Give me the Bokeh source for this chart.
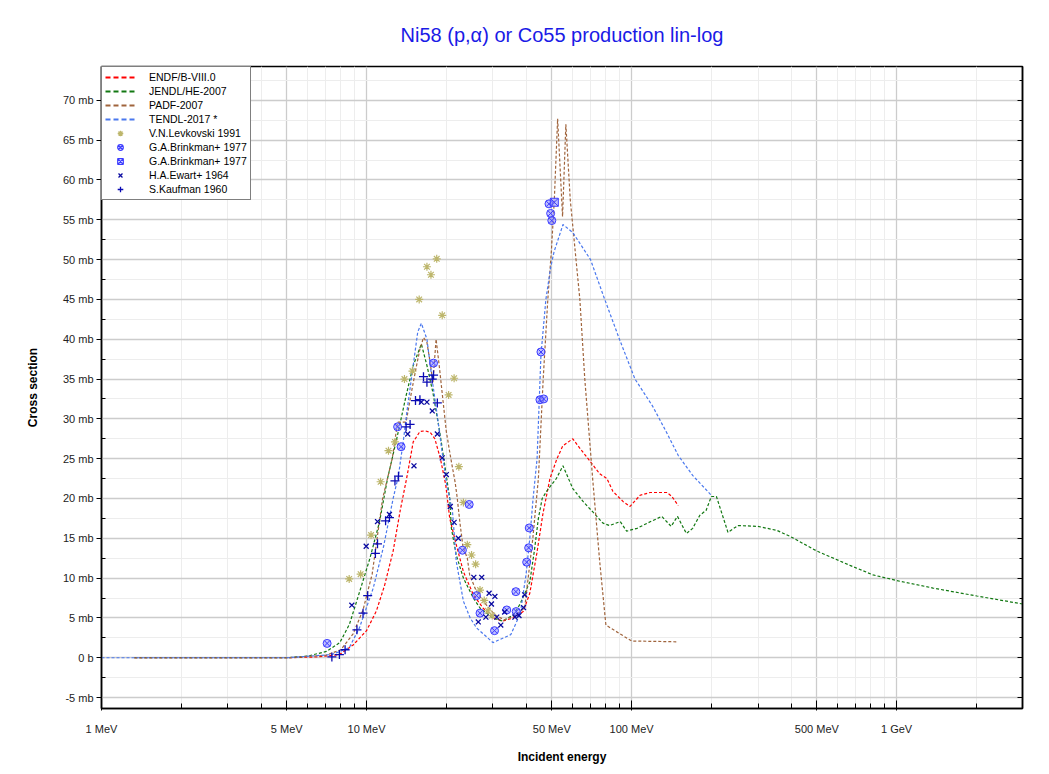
from bokeh.plotting import figure
from bokeh.models import FixedTicker, LinearAxis, Legend, LegendItem, Range1d
from bokeh.embed import file_html
from bokeh.resources import INLINE

# ---------------- data (MeV, mb) ----------------
endf_e = [1.33, 5.0, 6.5, 7.9, 8.9, 10.0, 10.9, 11.7, 12.6, 13.4, 14.2, 15.0, 15.9, 16.6, 17.4,
          18.1, 19.0, 19.9, 20.6, 21.8, 23.2, 25.3, 27.5, 30.0, 32.6, 35.8, 39.0, 41.3, 43.9,
          46.3, 49.2, 52.3, 55.0, 60.0, 64.0, 70.0, 75.8, 80.7, 85.0, 93.0, 98.7, 107.6, 117.4,
          136.0, 142.0, 150.0]
endf_mb = [0.0, 0.0, 0.1, 0.4, 1.6, 3.4, 5.9, 9.1, 13.4, 18.5, 22.7, 27.1, 28.4, 28.5, 28.3,
           27.5, 25.0, 21.7, 17.5, 14.2, 10.8, 7.9, 6.25, 5.0, 4.6, 5.0, 5.8, 8.1, 13.1,
           18.1, 22.5, 25.0, 26.6, 27.5, 26.25, 24.6, 23.1, 22.5, 20.9, 19.6, 19.0, 20.4, 20.75,
           20.75, 20.25, 19.1]

jendl_e = [1.33, 5.0, 6.0, 7.06, 7.93, 8.62, 9.42, 10.3, 11.2, 12.0, 13.0, 14.1, 15.0, 16.1,
           16.9, 17.8, 18.9, 19.4, 20.6, 20.9, 21.8, 23.2, 25.3, 26.8, 30.0, 32.6, 35.8, 37.9,
           41.3, 43.0, 44.5, 46.0, 48.0, 52.0, 55.1, 60.0, 65.7, 71.0, 78.0, 82.6, 90.6, 95.8,
           104.8, 118.0, 130.0, 141.0, 149.0, 161.0, 170.0, 181.0, 191.0, 200.0, 209.0, 231.0,
           252.0, 299.0, 353.0, 396.0, 500.0, 667.0, 815.0, 1030.0, 1372.0, 2010.0, 2985.0]
jendl_mb = [0.0, 0.0, 0.2, 0.8, 1.9, 4.2, 8.3, 12.5, 17.1, 22.5, 27.5, 32.9, 36.7, 39.4,
            36.7, 33.3, 28.3, 25.8, 20.0, 16.25, 12.9, 10.0, 7.5, 6.25, 5.0, 4.6, 5.4, 6.7,
            9.5, 13.5, 17.5, 20.0, 21.0, 22.5, 24.1, 21.25, 19.6, 18.4, 16.9, 16.6, 17.1, 15.9,
            16.25, 17.1, 17.75, 16.5, 17.75, 15.6, 16.25, 17.9, 18.5, 20.25, 20.25, 15.75,
            16.6, 16.5, 16.0, 15.25, 13.4, 11.6, 10.4, 9.6, 8.75, 7.75, 6.75]

padf_e = [1.33, 5.0, 7.0, 8.0, 8.9, 9.7, 10.5, 11.5, 12.5, 13.1, 14.1, 14.8, 15.4, 15.9, 16.4,
          16.9, 17.3, 17.8, 18.3, 18.8, 19.4, 20.0, 20.8, 21.6, 22.0, 22.5, 23.1, 24.0, 24.5,
          26.0, 28.2, 30.5, 33.1, 36.1, 39.5, 42.4, 44.5, 46.4, 48.3, 49.8, 51.1, 52.6, 54.9,
          56.5, 58.7, 63.8, 66.6, 71.3, 75.8, 80.0, 100.0, 150.0]
padf_mb = [0.0, 0.0, 0.3, 1.0, 3.0, 6.0, 10.5, 20.0, 25.0, 29.6, 29.6, 33.5, 36.5, 38.75, 40.2,
           39.6, 37.5, 34.6, 40.0, 36.7, 32.5, 28.4, 25.0, 22.0, 20.0, 17.0, 14.0, 12.5, 10.4,
           8.3, 6.7, 5.4, 4.75, 5.25, 6.25, 15.0, 22.5, 35.0, 45.0, 51.0, 57.5, 67.7, 55.4,
           67.0, 57.5, 45.0, 35.0, 22.5, 12.1, 4.1, 2.1, 2.0]

tendl_e = [1.0, 5.0, 7.4, 8.6, 9.4, 10.6, 11.6, 12.6, 13.2, 13.8, 14.2, 15.0, 15.6, 16.1, 16.9,
           17.6, 18.4, 19.2, 20.1, 21.1, 21.8, 23.2, 24.6, 26.0, 30.0, 35.0, 38.0, 40.0, 41.3,
           42.5, 44.0, 45.5, 47.5, 49.5, 51.0, 55.1, 60.0, 70.0, 78.4, 90.0, 103.0, 120.0,
           135.0, 150.0, 170.0, 200.0]
tendl_mb = [0.0, 0.0, 0.4, 1.25, 3.75, 8.75, 14.0, 20.0, 22.9, 27.5, 30.9, 36.7, 40.9, 42.0, 40.0,
            35.4, 30.9, 26.25, 21.6, 18.4, 12.1, 7.1, 5.0, 3.75, 1.9, 2.9, 5.5, 10.5, 15.0,
            20.0, 25.0, 38.0, 45.0, 49.0, 51.0, 54.4, 53.4, 50.0, 45.4, 40.0, 35.0, 31.6,
            28.4, 25.4, 22.9, 20.4]

levk_e = [8.6, 9.5, 10.4, 11.3, 12.1, 12.8, 13.9, 14.9, 15.8, 16.9, 17.5, 18.4, 19.3, 20.4,
          21.4, 22.3, 23.2, 24.0, 24.9, 25.8, 26.8, 27.8, 28.7, 29.8]
levk_mb = [9.9, 10.5, 15.4, 22.1, 26.0, 27.1, 35.0, 36.0, 45.0, 49.1, 48.1, 50.1, 43.0, 33.0,
           35.1, 24.0, 19.5, 14.2, 12.9, 11.75, 8.5, 7.2, 5.9, 5.3]

brink_e = [7.1, 13.1, 13.5, 17.9, 23.0, 24.4, 26.0, 26.8, 30.4, 33.8, 36.6, 36.7, 40.2, 40.9,
           41.1, 45.1, 45.5, 46.6, 48.8, 49.5, 50.0]
brink_mb = [1.8, 29.0, 26.5, 37.0, 13.5, 19.25, 7.8, 5.6, 3.4, 6.0, 8.3, 5.8, 12.0, 13.8,
            16.3, 32.4, 38.4, 32.5, 57.0, 55.8, 54.9]

brink2_e = [51.1]
brink2_mb = [57.2]

ewart_e = [8.8, 9.97, 11.0, 12.2, 14.3, 15.1, 16.1, 16.9, 17.7, 18.5, 19.3, 20.0, 20.7, 21.4,
           22.2, 25.4, 26.4, 27.2, 28.2, 29.0, 29.6, 30.5, 31.0, 32.1, 33.2, 36.3, 37.6, 39.1, 39.5]
ewart_mb = [6.6, 14.0, 17.1, 18.0, 28.1, 24.1, 32.1, 32.1, 31.0, 28.1, 25.1, 23.0, 19.0, 17.0,
            15.0, 10.1, 4.5, 10.1, 5.1, 8.1, 6.75, 7.7, 5.1, 4.1, 5.75, 5.1, 5.3, 6.3, 7.9]

kauf_e = [7.4, 7.9, 8.3, 9.2, 9.7, 10.1, 10.8, 11.0, 11.8, 12.2, 12.8, 13.2, 14.1, 14.6, 15.3,
          15.9, 16.4, 16.9, 17.7, 17.9, 18.5]
kauf_mb = [0.1, 0.4, 1.0, 3.5, 5.6, 7.8, 13.1, 14.3, 17.2, 17.6, 22.2, 22.8, 29.0, 29.3, 32.3,
           32.4, 35.3, 34.6, 35.0, 35.5, 32.0]

x_ticks = [1, 5, 10, 50, 100, 500, 1000]
x_tick_labels = ["1 MeV", "5 MeV", "10 MeV", "50 MeV", "100 MeV", "500 MeV", "1 GeV"]
x_minor = [2, 3, 4, 6, 7, 8, 9, 20, 30, 40, 60, 70, 80, 90, 200, 300, 400, 600, 700, 800, 900, 2000]
y_ticks = list(range(-5, 75, 5))
y_tick_labels = [("0 b" if v == 0 else f"{v} mb") for v in y_ticks]
y_minor = [v + 2.5 for v in range(-10, 75, 5)]

# ---------------- styles ----------------
C_ENDF = "#ff0000"
C_JENDL = "#127812"
C_PADF = "#a0643c"
C_TENDL = "#4a78ee"
C_LEVK = "#bdb66c"
C_BRINK = "#3c3cff"
C_EWART = "#0a0aa0"
C_KAUF = "#0a0ab4"
FONT = "Liberation Sans"

W, H = 1041, 766
p = figure(width=W, height=H, x_axis_type="log",
           x_range=Range1d(1, 2985), y_range=Range1d(-6.375, 74.25),
           output_backend="svg", toolbar_location=None,
           min_border_left=101, min_border_right=19, min_border_top=66, min_border_bottom=55)

p.title.text = "Ni58 (p,\u03b1) or Co55 production lin-log"
p.title.align = "center"
p.title.text_font = FONT
p.title.text_font_style = "normal"
p.title.text_font_size = "20px"
p.title.text_color = "#1a1ae6"
p.title.standoff = 41

p.outline_line_color = "black"
p.outline_line_width = 1.5
p.background_fill_color = "white"
p.border_fill_color = "white"

# axes
xa = p.xaxis[0]
xa.ticker = FixedTicker(ticks=x_ticks, minor_ticks=x_minor)
xa.major_label_overrides = {t: l for t, l in zip(x_ticks, x_tick_labels)}
xa.axis_label = "Incident energy"
ya = p.yaxis[0]
ya.ticker = FixedTicker(ticks=y_ticks, minor_ticks=y_minor)
ya.major_label_overrides = {t: l for t, l in zip(y_ticks, y_tick_labels)}
ya.axis_label = "Cross section"

for ax in (xa, ya):
    ax.axis_line_color = "black"
    ax.axis_line_width = 1.5
    ax.major_tick_line_color = "black"
    ax.minor_tick_line_color = "black"
    ax.major_label_text_font = FONT
    ax.major_label_text_font_size = "11px"
    ax.major_label_text_color = "#222222"
    ax.axis_label_text_font = FONT
    ax.axis_label_text_font_size = "12px"
    ax.axis_label_text_font_style = "bold"
    ax.axis_label_text_color = "black"

xa.major_tick_in = 8
xa.major_tick_out = 2
xa.minor_tick_in = 5
xa.minor_tick_out = 0
xa.major_label_standoff = 12
xa.axis_label_standoff = 12

ya.major_tick_in = 0
ya.major_tick_out = 5
ya.minor_tick_in = 4
ya.minor_tick_out = 0
ya.major_label_standoff = 3
ya.axis_label_standoff = 20

ra = LinearAxis(ticker=FixedTicker(ticks=y_ticks, minor_ticks=y_minor),
                major_label_overrides={t: "" for t in y_ticks},
                axis_line_color="black", axis_line_width=1.5,
                major_tick_in=5, major_tick_out=0, minor_tick_in=3, minor_tick_out=0,
                major_label_standoff=0)
p.add_layout(ra, "right")

# grids
p.xgrid.grid_line_color = "#cccccc"
p.xgrid.grid_line_width = 1.3
p.xgrid.minor_grid_line_color = "#ededed"
p.xgrid.minor_grid_line_width = 1
p.ygrid.grid_line_color = "#cccccc"
p.ygrid.grid_line_width = 1.3
p.ygrid.minor_grid_line_color = "#ededed"
p.ygrid.minor_grid_line_width = 1

# evaluated curves
DASH = "3 2"
p.line(endf_e, endf_mb, line_color=C_ENDF, line_width=1.2, line_dash=DASH)
p.line(jendl_e, jendl_mb, line_color=C_JENDL, line_width=1.2, line_dash=DASH)
p.line(padf_e, padf_mb, line_color=C_PADF, line_width=1.2, line_dash=DASH)
p.line(tendl_e, tendl_mb, line_color=C_TENDL, line_width=1.2, line_dash=DASH)

# experimental points
p.scatter(levk_e, levk_mb, marker="asterisk", size=8, line_color=C_LEVK, line_width=1.2)
p.scatter(brink_e, brink_mb, marker="circle_x", size=8, line_color=C_BRINK,
          fill_color="#8c8cff", fill_alpha=0.55, line_width=1)
p.scatter(brink2_e, brink2_mb, marker="square_x", size=8, line_color=C_BRINK,
          fill_color="#8c8cff", fill_alpha=0.55, line_width=1)
p.scatter(ewart_e, ewart_mb, marker="x", size=7, line_color=C_EWART, line_width=1.3)
p.scatter(kauf_e, kauf_mb, marker="cross", size=9, line_color=C_KAUF, line_width=1.3)

# legend proxies (off-screen points, styled like the reference's legend keys)
OFF_X = [1.5, 2.0]
OFF_Y = [-1000.0, -1000.0]
LD = "5 3"
lr = [
    ("ENDF/B-VIII.0", p.line(OFF_X, OFF_Y, line_color=C_ENDF, line_width=2, line_dash=LD)),
    ("JENDL/HE-2007", p.line(OFF_X, OFF_Y, line_color=C_JENDL, line_width=2, line_dash=LD)),
    ("PADF-2007", p.line(OFF_X, OFF_Y, line_color=C_PADF, line_width=2, line_dash=LD)),
    ("TENDL-2017 *", p.line(OFF_X, OFF_Y, line_color=C_TENDL, line_width=2, line_dash=LD)),
    ("V.N.Levkovski 1991", p.scatter(OFF_X[:1], OFF_Y[:1], marker="asterisk", size=12,
                                     line_color=C_LEVK, line_width=1.3)),
    ("G.A.Brinkman+ 1977", p.scatter(OFF_X[:1], OFF_Y[:1], marker="circle_x", size=12,
                                     line_color=C_BRINK, fill_color="white", line_width=1.2)),
    ("G.A.Brinkman+ 1977", p.scatter(OFF_X[:1], OFF_Y[:1], marker="square_x", size=12,
                                     line_color=C_BRINK, fill_color="white", line_width=1.2)),
    ("H.A.Ewart+ 1964", p.scatter(OFF_X[:1], OFF_Y[:1], marker="x", size=10,
                                  line_color=C_EWART, line_width=1.3)),
    ("S.Kaufman 1960", p.scatter(OFF_X[:1], OFF_Y[:1], marker="cross", size=13,
                                 line_color=C_KAUF, line_width=1.3)),
]
legend = Legend(items=[LegendItem(label=l, renderers=[r]) for l, r in lr],
                location="top_left", margin=0, padding=3, spacing=0,
                glyph_width=30, glyph_height=14, label_height=14, label_standoff=14,
                label_text_font=FONT, label_text_font_size="10.5px", label_text_color="black",
                border_line_color="black", border_line_width=1,
                background_fill_color="white", background_fill_alpha=1)
p.add_layout(legend)

open("out.html", "w").write(file_html(p, INLINE))
